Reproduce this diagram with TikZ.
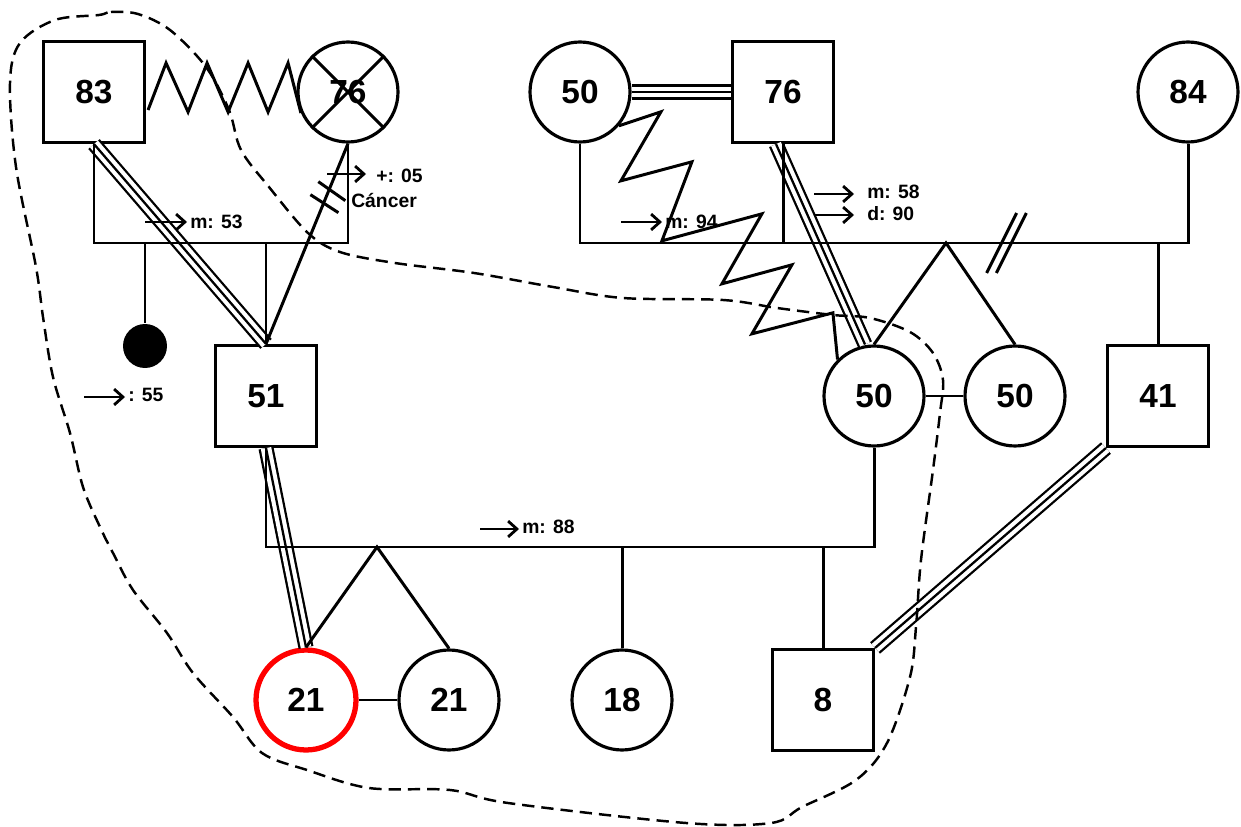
\documentclass[tikz,border=0pt]{standalone}
\usepackage{fontspec}
\setmainfont{Liberation Sans}
\usetikzlibrary{calc,arrows.meta}

\newcommand{\tripleline}[2]{%
  \draw[line width=1.3pt,double distance=6pt] #1 -- #2;
  \draw[line width=1.3pt] #1 -- #2;}

\begin{document}
\begin{tikzpicture}[x=0.02cm,y=-0.02cm,line width=1.7pt,
   male/.style={draw,rectangle,minimum size=2.02cm,line width=1.8pt,font=\fontsize{19}{22}\selectfont\bfseries},
   female/.style={draw,circle,minimum size=2cm,line width=1.8pt,font=\fontsize{19}{22}\selectfont\bfseries},
   index/.style={female,draw=red,line width=3pt},
   deceased/.style={circle,fill=black,minimum size=0.88cm,inner sep=0pt},
   lbl/.style={font=\fontsize{11}{13}\selectfont\bfseries,inner sep=1pt,anchor=west},
   ptr/.style={-{Straight Barb[length=5pt,width=9pt,line width=1.6pt]},line width=1.6pt},
   outline/.style={dashed,dash pattern=on 7pt off 4pt,line width=1.4pt}]
   \useasboundingbox (0,0) rectangle (1241,827);

   % people
   \node[male] (m83) at (94,92) {83};
   \node[female] (f76) at (348,92) {76};
   \node[female] (f50t) at (580,92) {50};
   \node[male] (m76) at (783,92) {76};
   \node[female] (f84) at (1188,92) {84};
   \node[deceased] (d55) at (145,346) {};
   \node[male] (m51) at (266,396) {51};
   \node[female] (f50m) at (874,396) {50};
   \node[female] (f50r) at (1015,396) {50};
   \node[male] (m41) at (1158,396) {41};
   \node[index] (f21a) at (306,700) {21};
   \node[female] (f21b) at (449,700) {21};
   \node[female] (f18) at (622,700) {18};
   \node[male] (m8) at (823,700) {8};

   \coordinate (u1) at (0,243);
   \coordinate (u3) at (0,547);
   \coordinate (tw1) at (946,243);
   \coordinate (tw2) at (377,547);

   % close bonds
   \tripleline{(m83.south)}{(m51.north)}
   \tripleline{(f50t.east)}{(m76.west)}
   \tripleline{($(m76.south)+(-7,0)$)}{($(f50m.north)+(-9,0)$)}
   \tripleline{(m51.south)}{(f21a.north)}
   \tripleline{(m41.south west)}{(m8.north east)}

   % families
   \draw (m83.south) -- (m83.south |- u1) -| (f76.south);
   \draw (d55.north) -- (d55.north |- u1);
   \draw (m51.north) -- (m51.north |- u1);
   \draw (f50t.south) -- (f50t.south |- u1) -| (f84.south);
   \draw (m76.south) -- (m76.south |- u1);
   \draw (f50m.north) -- (tw1) -- (f50r.north);
   \draw (m41.north) -- (m41.north |- u1);
   \draw (m51.south) -- (m51.south |- u3) -| (f50m.south);
   \draw (f21a.north) -- (tw2) -- (f21b.north);
   \draw (f18.north) -- (f18.north |- u3);
   \draw (m8.north) -- (m8.north |- u3);
   \draw (f21a.east) -- (f21b.west);
   \draw (f50m.east) -- (f50r.west);

   % cut-off bond and divorce marks
   \draw (f76.south) -- coordinate[pos=0.24] (k1) coordinate[pos=0.3] (k2) (m51.north);
   \draw ($(k1)+(-10,-10)$) -- ($(k1)+(17,9)$) ($(k2)+(-13,-9)$) -- ($(k2)+(15,9)$);
   \path (tw1) -- coordinate[pos=0.23] (v1) coordinate[pos=0.27] (v2) (f84.south |- u1);
   \draw ($(v1)+(-15,30)$) -- ($(v1)+(15,-30)$) ($(v2)+(-15,30)$) -- ($(v2)+(15,-30)$);

   % deceased mark
   \draw (f76.45) -- (f76.-135) (f76.135) -- (f76.-45);

   % conflict
   \draw ($(m83.east)+(2,18)$) -- ++(18,-47) -- ++(22,49) -- ++(19,-49) -- ++(21,49)
      -- ++(20,-49) -- ++(20,49) -- ++(20,-49) -- (f76.-156);
   \draw (f50t.-41) -- ++(42,-14) -- ++(-40,69) -- ++(71,-19) -- ++(-30,79) -- ++(100,-27)
      -- ++(-40,70) -- ++(70,-19) -- ++(-40,69) -- ++(81,-21) -- (f50m.135);

   % dates
   \node[lbl] (t53) at (187,222) {m: 53};
   \draw[ptr] ($(t53.west)+(-42,0)$) -- (t53.west);
   \node[lbl] (t05) at (373,176) {+: 05};
   \draw[ptr] ($(t05.west)+(-46,-2)$) -- ($(t05.west)+(-7,-2)$);
   \node[lbl] (tca) at (348,201) {Cáncer};
   \node[lbl] (t55) at (125,395) {: 55};
   \draw[ptr] ($(t55.west)+(-41,2)$) -- ($(t55.west)+(0,2)$);
   \node[lbl] (t94) at (662,222) {m: 94};
   \draw[ptr] ($(t94.west)+(-41,0)$) -- (t94.west);
   \node[lbl] (t58) at (864,192) {m: 58};
   \draw[ptr] ($(t58.west)+(-50,2)$) -- ($(t58.west)+(-10,2)$);
   \node[lbl] (t90) at (864,214) {d: 90};
   \draw[ptr] ($(t90.west)+(-50,1)$) -- ($(t90.west)+(-10,1)$);
   \node[lbl] (t88) at (519,527) {m: 88};
   \draw[ptr] ($(t88.west)+(-39,2)$) -- ($(t88.west)+(0,2)$);

   % household
   \draw[outline] plot[smooth cycle,tension=0.55] coordinates {
      (99,15) (111,12) (138,14) (170,30) (206,67) (229,110) (241,150) (269,187)
      (308,233) (340,252) (395,263) (474,273) (553,287) (623,298) (723,300)
      (777,308) (833,315) (870,318) (910,332) (933,353) (943,380) (940,413)
      (933,470) (921,560) (916,627) (910,677) (887,743) (856,780) (802,807)
      (771,823) (686,823) (508,803) (450,790) (369,788) (307,770) (262,753)
      (233,717) (193,673) (167,633) (133,590) (113,553) (100,527) (83,487)
      (70,433) (53,377) (43,317) (36,267) (16,167) (10,83) (20,43) (55,20)};
\end{tikzpicture}
\end{document}
